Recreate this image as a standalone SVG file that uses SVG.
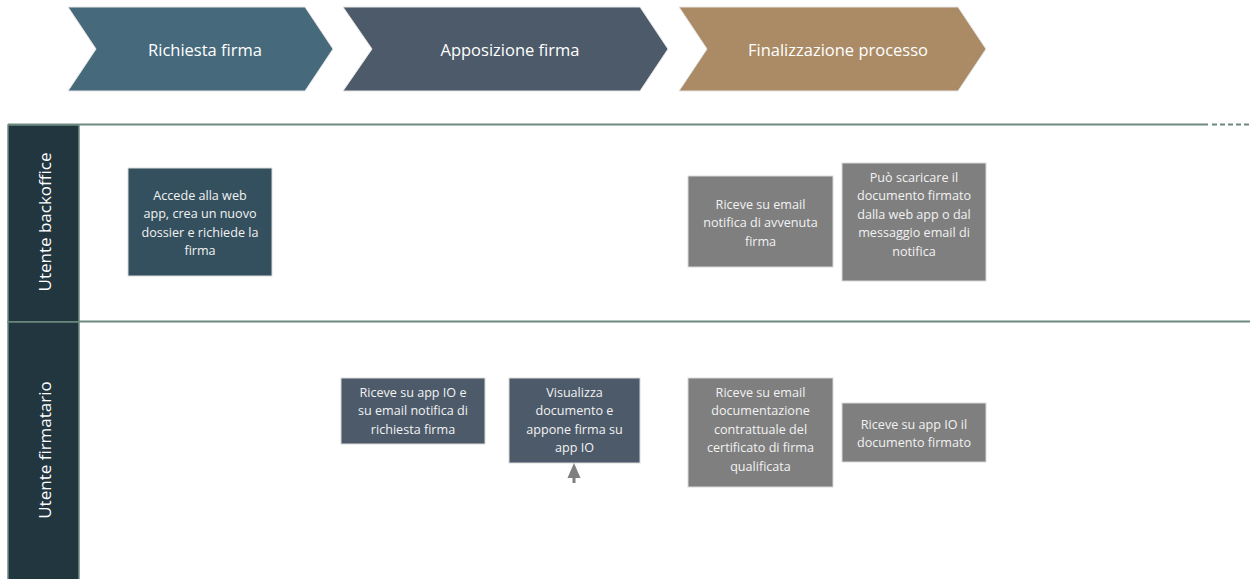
<svg xmlns="http://www.w3.org/2000/svg" width="1250" height="579" viewBox="0 0 1250 579">
<style>
  .chev text { font-family: "Open Sans", "Noto Sans", "Liberation Sans", sans-serif; font-size: 16.5px; fill: #ffffff; text-anchor: middle; dominant-baseline: central; }
  .lane { fill: #22363F; stroke: #6E8A80; stroke-width: 1.5; }
  .lanetxt { font-family: "Open Sans", "Noto Sans", "Liberation Sans", sans-serif; font-size: 17px; fill: #ffffff; text-anchor: middle; dominant-baseline: central; }
  .sep { stroke: #6E8A80; stroke-width: 2; }
  .box text { font-family: "Open Sans", "Noto Sans", "Liberation Sans", sans-serif; font-size: 12.6px; fill: #F2F2F2; text-anchor: middle; }
  .b1 { fill: #34505E; stroke: #D9D9D9; stroke-width: 1; }
  .b2 { fill: #4C5A6A; stroke: #D9D9D9; stroke-width: 1; }
  .b3 { fill: #7F7F7F; stroke: #D9D9D9; stroke-width: 1; }
</style>
<rect width="1250" height="579" fill="#ffffff"/>

<g id="phase-richiesta" class="chev">
  <polygon points="68,7 305,7 333,49 305,91 68,91 96,49" fill="#466A7C" stroke="#E5E5E5" stroke-width="1"/>
  <text x="205" y="49">Richiesta firma</text>
</g>
<g id="phase-apposizione" class="chev">
  <polygon points="343,7 640,7 668,49 640,91 343,91 372,49" fill="#4C5A6A" stroke="#E5E5E5" stroke-width="1"/>
  <text x="510" y="49">Apposizione firma</text>
</g>
<g id="phase-finalizzazione" class="chev">
  <polygon points="679,7 958,7 986,49 958,91 679,91 707,49" fill="#AB8B65" stroke="#E5E5E5" stroke-width="1"/>
  <text x="838" y="49">Finalizzazione processo</text>
</g>

<g id="swimlanes">
  <line class="sep" x1="8" y1="124.5" x2="1208" y2="124.5"/>
  <line class="sep" x1="1212" y1="124.5" x2="1250" y2="124.5" stroke-dasharray="5,3"/>
  <line class="sep" x1="8" y1="321.5" x2="1250" y2="321.5"/>
</g>

<g id="lane-backoffice">
  <rect class="lane" x="8" y="125" width="71" height="197"/>
  <text class="lanetxt" transform="translate(44,222) rotate(-90)">Utente backoffice</text>
</g>
<g id="lane-firmatario">
  <rect class="lane" x="8" y="322" width="71" height="260"/>
  <text class="lanetxt" transform="translate(44,450) rotate(-90)">Utente firmatario</text>
</g>

<g id="node-accede" class="box">
  <rect class="b1" x="128" y="168" width="144" height="108"/>
  <text x="200" y="199.5">Accede alla web</text>
  <text x="200" y="218">app, crea un nuovo</text>
  <text x="200" y="236.5">dossier e richiede la</text>
  <text x="200" y="255">firma</text>
</g>

<g id="node-riceve-notifica" class="box">
  <rect class="b2" x="341" y="378" width="144" height="66"/>
  <text x="413" y="396.5">Riceve su app IO e</text>
  <text x="413" y="415">su email notifica di</text>
  <text x="413" y="433.5">richiesta firma</text>
</g>

<g id="node-visualizza" class="box">
  <rect class="b2" x="509" y="378" width="131" height="85"/>
  <text x="574.5" y="396.5">Visualizza</text>
  <text x="574.5" y="415">documento e</text>
  <text x="574.5" y="433.5">appone firma su</text>
  <text x="574.5" y="452">app IO</text>
</g>

<g id="node-avvenuta" class="box">
  <rect class="b3" x="688" y="176" width="145" height="91"/>
  <text x="760.5" y="208.5">Riceve su email</text>
  <text x="760.5" y="227">notifica di avvenuta</text>
  <text x="760.5" y="245.5">firma</text>
</g>

<g id="node-scaricare" class="box">
  <rect class="b3" x="842" y="163" width="144" height="118"/>
  <text x="914" y="181.5">Può scaricare il</text>
  <text x="914" y="200">documento firmato</text>
  <text x="914" y="218.5">dalla web app o dal</text>
  <text x="914" y="237">messaggio email di</text>
  <text x="914" y="255.5">notifica</text>
</g>

<g id="node-documentazione" class="box">
  <rect class="b3" x="688" y="378" width="145" height="109"/>
  <text x="760.5" y="396.5">Riceve su email</text>
  <text x="760.5" y="415">documentazione</text>
  <text x="760.5" y="433.5">contrattuale del</text>
  <text x="760.5" y="452">certificato di firma</text>
  <text x="760.5" y="470.5">qualificata</text>
</g>

<g id="node-documento-firmato" class="box">
  <rect class="b3" x="842" y="403" width="144" height="59"/>
  <text x="914" y="428.5">Riceve su app IO il</text>
  <text x="914" y="447">documento firmato</text>
</g>

<g id="connectors">
  <line x1="574" y1="483" x2="574" y2="474" stroke="#7F7F7F" stroke-width="3"/>
  <polygon points="574,463 567.5,478 580.5,478" fill="#7F7F7F"/>
</g>
</svg>
